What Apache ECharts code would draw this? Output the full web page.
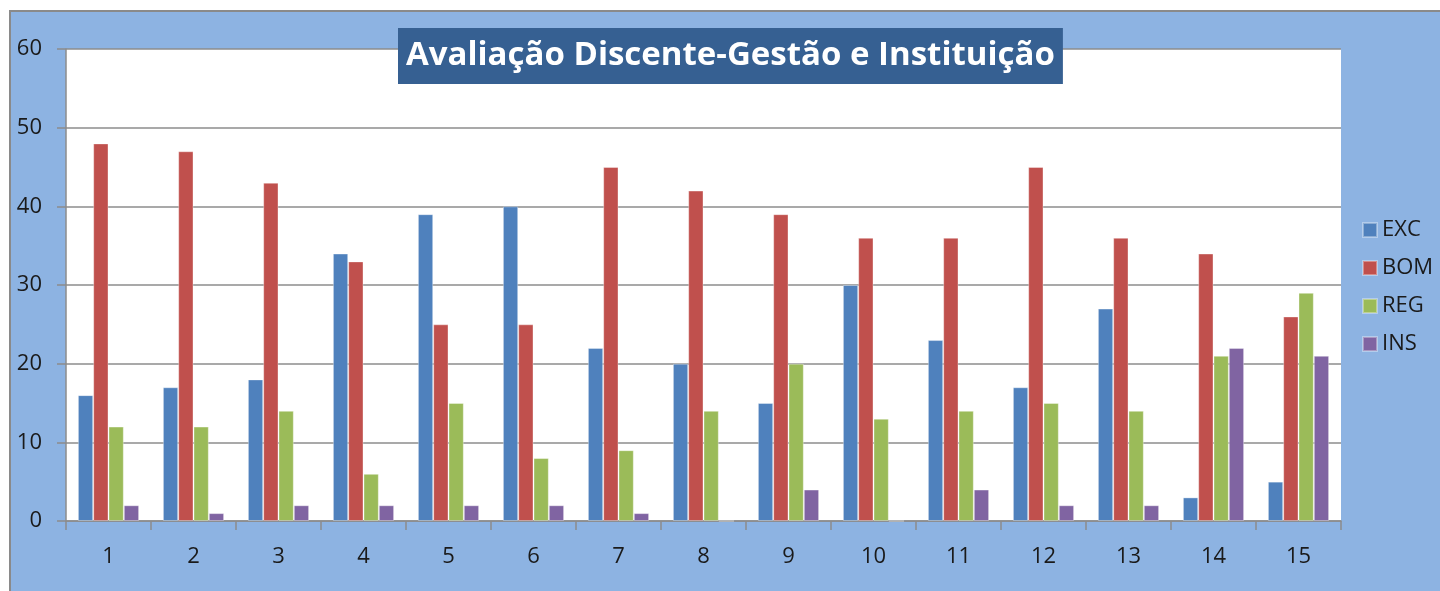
<!DOCTYPE html>
<html>
<head>
<meta charset="utf-8">
<script src="https://cdn.jsdelivr.net/npm/echarts@6/dist/echarts.min.js"></script>
<style>
html,body{margin:0;padding:0;background:#fff;}
#c{width:1440px;height:591px;}
</style>
</head>
<body>
<div id="c"></div>
<script>
const categories = ['1','2','3','4','5','6','7','8','9','10','11','12','13','14','15'];
const EXC = [16,17,18,34,39,40,22,20,15,30,23,17,27,3,5];
const BOM = [48,47,43,33,25,25,45,42,39,36,36,45,36,34,26];
const REG = [12,12,14,6,15,8,9,14,20,13,14,15,14,21,29];
const INS = [2,1,2,2,2,2,1,0,4,0,4,2,2,22,21];
const seriesNames = ['EXC','BOM','REG','INS'];
const seriesData = [EXC,BOM,REG,INS];
const colors = ['#4F81BD','#C0504D','#9BBB59','#8064A2'];
const titleText = 'Avaliação Discente-Gestão e Instituição';

const chart = echarts.init(document.getElementById('c'), null, {renderer:'canvas'});
const font = '"Open Sans", "Noto Sans", sans-serif';
chart.setOption({
  backgroundColor: '#fff',
  animation: false,
  color: colors,
  graphic: [{
    type: 'rect', z: -10, silent: true,
    shape: {x: 10, y: 11, width: 1440, height: 600},
    style: {fill: '#8DB3E2', stroke: '#8a8a8a', lineWidth: 2}
  }],
  title: {
    text: titleText,
    left: 398, top: 28,
    backgroundColor: '#366092',
    padding: [9, 8, 9, 8],
    textStyle: {color: '#fff', fontSize: 33, fontWeight: 'bold', fontFamily: font, lineHeight: 38}
  },
  legend: {
    orient: 'vertical',
    left: 1357, top: 214,
    itemWidth: 14, itemHeight: 14, itemGap: 16,
    icon: 'rect',
    textStyle: {fontSize: 22, lineHeight: 22, color: '#1a1a1a', fontFamily: font},
    data: seriesNames
  },
  grid: {
    left: 66, right: 99, top: 49, bottom: 70,
    show: true, backgroundColor: '#fff', borderWidth: 0
  },
  xAxis: {
    type: 'category', data: categories,
    axisLine: {lineStyle: {color: '#8c8c8c', width: 1.5}},
    axisTick: {show: true, length: 9, alignWithLabel: false, lineStyle: {color: '#8c8c8c', width: 1.5}},
    axisLabel: {fontSize: 22, color: '#1a1a1a', margin: 25, fontFamily: font}
  },
  yAxis: {
    type: 'value', min: 0, max: 60, interval: 10,
    axisLine: {show: true, lineStyle: {color: '#8c8c8c', width: 1.5}},
    axisTick: {show: true, length: 9, lineStyle: {color: '#8c8c8c', width: 1.5}},
    axisLabel: {fontSize: 22, color: '#1a1a1a', margin: 24, fontFamily: font},
    splitLine: {lineStyle: {color: '#8c8c8c', width: 1.5}}
  },
  series: seriesNames.map((n, i) => ({
    name: n, type: 'bar', data: seriesData[i],
    barGap: '0%', barCategoryGap: '28%',
    itemStyle: {color: colors[i], borderColor: 'rgba(255,255,255,0.35)', borderWidth: 1}
  }))
});
</script>
</body>
</html>
